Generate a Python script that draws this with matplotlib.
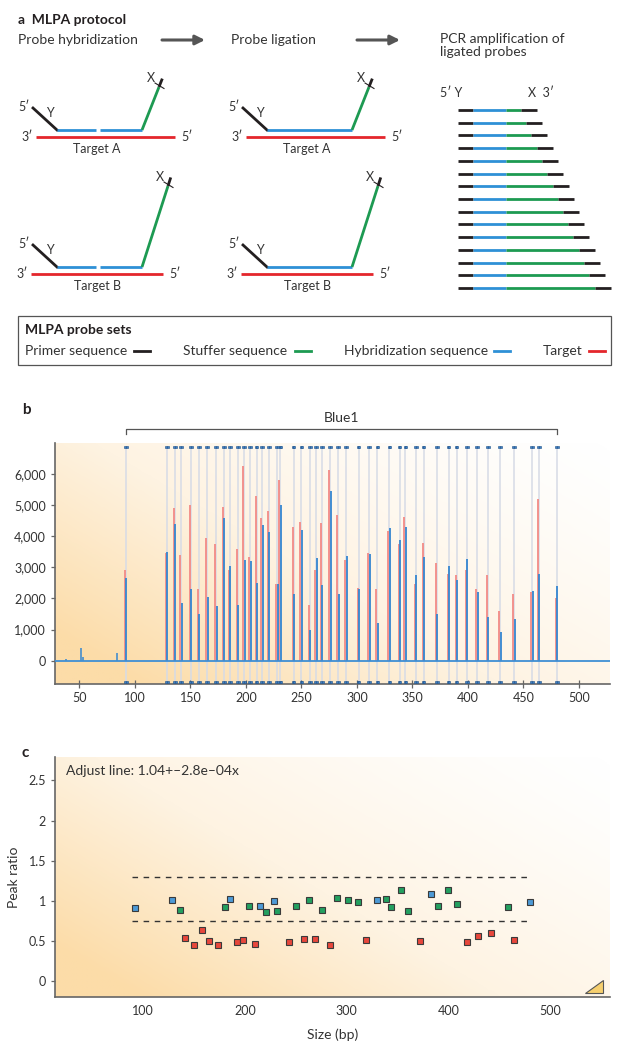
import numpy as np
import matplotlib
matplotlib.use("Agg")
import matplotlib.pyplot as plt
from matplotlib.colors import LinearSegmentedColormap
from matplotlib.patches import Rectangle, Polygon
from matplotlib.ticker import FuncFormatter

plt.rcParams['font.family'] = ['Lato', 'DejaVu Sans']

# ---- data -------------------------------------------------------------
# probe sizes (bp), same probes in panel b and c
sizes = [91.7, 128.8, 136, 141.5, 150.3, 157.6, 165, 173.3, 180.1, 185.4,
         192.6, 198.5, 204, 209.6, 214.8, 220.7, 228.2, 231.1, 242.9, 250,
         257.6, 263.1, 268.3, 276, 283.1, 290.4, 301.5, 311, 318.5, 329.3,
         338.4, 343.7, 352.9, 360, 371.8, 382.6, 389.8, 399, 408.4, 418,
         429, 441.8, 457.8, 463.7, 480]
# electropherogram peak heights, reference (red) and sample (blue)
red_h = [2900, 3450, 4900, 3400, 5000, 2300, 3950, 3750, 4950, 2900,
         3600, 6250, 3350, 5300, 4600, 4800, 2450, 5800, 4300, 4450,
         1800, 2900, 4420, 6120, 4670, 3230, 2350, 3450, 2290, 4185,
         3760, 4630, 2460, 3780, 3140, 2800, 2750, 2930, 2320, 2750,
         1600, 2130, 2215, 5200, 2000]
blue_h = [2650, 3500, 4400, 1850, 2300, 1500, 2050, 1750, 4600, 3050,
          1800, 3250, 3200, 2500, 4350, 4150, 2450, 5000, 2150, 4200,
          1000, 3300, 2430, 5460, 2130, 3360, 2320, 3420, 1200, 4270,
          3890, 4290, 2770, 3330, 1500, 3035, 2610, 3280, 2215, 1395,
          916, 1330, 2240, 2800, 2400]
# small unassigned peaks before the first probe
small_x = [37.5, 51.5, 53.5, 83.5]
small_h = [50, 400, 130, 240]

# panel c: peak ratios and class (b = reference, g = normal, r = deletion)
ratios = [0.91, 1.01, 0.89, 0.535, 0.45, 0.635, 0.505, 0.45, 0.925, 1.03,
          0.485, 0.515, 0.94, 0.465, 0.94, 0.86, 1.0, 0.87, 0.495, 0.94,
          0.527, 1.01, 0.53, 0.89, 0.45, 1.04, 1.01, 0.99, 0.52, 1.01,
          1.03, 0.925, 1.13, 0.88, 0.505, 1.08, 0.94, 1.13, 0.96, 0.49,
          0.565, 0.60, 0.92, 0.52, 0.99]
classes = ['b', 'b', 'g', 'r', 'r', 'r', 'r', 'r', 'g', 'b',
           'r', 'r', 'g', 'r', 'b', 'g', 'b', 'g', 'r', 'g',
           'r', 'g', 'r', 'g', 'r', 'g', 'g', 'g', 'r', 'b',
           'g', 'g', 'g', 'g', 'r', 'b', 'g', 'g', 'g', 'r',
           'r', 'r', 'g', 'r', 'b']
limits = [0.75, 1.3]

# panel a: right-hand end of stuffer (green) for each ligated PCR product
stuffer_end = [521, 526, 531, 537, 542, 547, 553, 558, 563, 568,
               573, 579, 584, 589, 595]

RED = '#e4262c'
BLUE = '#2e90d6'
GREEN = '#1d9a52'
BLACK = '#231f20'
TXT = '#333333'

fig = plt.figure(figsize=(6.2, 10.5), dpi=100)

# ---- panel a: diagram, drawn in pixel units -------------------------------
axa = fig.add_axes([0, 1 - 372 / 1050, 1, 372 / 1050])
axa.set_xlim(0, 620)
axa.set_ylim(372, 0)
axa.axis('off')

fs = 10
axa.text(18, 20, 'a  MLPA protocol', fontsize=fs, fontweight='bold', va='center', color=BLACK)
axa.text(18, 40, 'Probe hybridization', fontsize=fs, va='center', color=TXT)
axa.text(231, 40, 'Probe ligation', fontsize=fs, va='center', color=TXT)
axa.text(440, 33, 'PCR amplification of\nligated probes', fontsize=fs, va='top',
         color=TXT, linespacing=1.15)
for x0, x1 in [(162, 205), (357, 400)]:
    axa.annotate('', xy=(x1, 40), xytext=(x0, 40),
                 arrowprops=dict(arrowstyle='-|>', color='#555555', lw=2.2,
                                 mutation_scale=14, shrinkA=0, shrinkB=0))


def draw_probe(dx, yb, red_start, red_end, tip, ligated, label):
    lw = 2
    axa.plot([red_start + dx, red_end + dx], [yb + 7, yb + 7], color=RED, lw=lw, solid_capstyle='butt')
    axa.plot([33 + dx, 57 + dx], [yb - 22, yb], color=BLACK, lw=lw)
    if ligated:
        axa.plot([57 + dx, 142 + dx], [yb, yb], color=BLUE, lw=lw, solid_capstyle='butt')
    else:
        axa.plot([57 + dx, 96 + dx], [yb, yb], color=BLUE, lw=lw, solid_capstyle='butt')
        axa.plot([100 + dx, 142 + dx], [yb, yb], color=BLUE, lw=lw, solid_capstyle='butt')
    tx, ty = tip[0] + dx, tip[1]
    axa.plot([142 + dx, tx], [yb, ty], color=GREEN, lw=lw, solid_capstyle='butt')
    vx, vy = tx - (142 + dx), ty - yb
    n = np.hypot(vx, vy)
    ux, uy = vx / n, vy / n
    axa.plot([tx, tx + 9 * ux], [ty, ty + 9 * uy], color=BLACK, lw=lw, solid_capstyle='butt')
    axa.plot([tx - 4, tx + 5], [ty - 4, ty + 1.5], color=BLACK, lw=0.8)
    axa.text(tx - 8, ty - 9, 'X', fontsize=9, ha='center', va='center', color=TXT)
    axa.text(24 + dx, yb - 23, '5\u2032', fontsize=9, ha='center', va='center', color=TXT)
    axa.text(50 + dx, yb - 17, 'Y', fontsize=9, ha='center', va='center', color=TXT)
    axa.text(red_start - 9 + dx, yb + 7, '3\u2032', fontsize=9, ha='center', va='center', color=TXT)
    axa.text(red_end + 12 + dx, yb + 7, '5\u2032', fontsize=9, ha='center', va='center', color=TXT)
    axa.text(97 + dx, yb + 19, label, fontsize=9, ha='center', va='center', color=TXT)


for dx, lig in [(0, False), (210, True)]:
    draw_probe(dx, 130, 36, 175, (159, 87), lig, 'Target A')
    draw_probe(dx, 267, 31, 163, (168, 186), lig, 'Target B')

# ligated products
axa.text(440, 93, '5\u2032 Y', fontsize=9, va='center', color=TXT)
axa.text(528, 93, 'X  3\u2032', fontsize=9, va='center', color=TXT)
ys = np.linspace(110, 288, len(stuffer_end))
for y, ge in zip(ys, stuffer_end):
    axa.plot([458, 473], [y, y], color=BLACK, lw=2, solid_capstyle='butt')
    axa.plot([473, 506], [y, y], color=BLUE, lw=2, solid_capstyle='butt')
    axa.plot([506, ge], [y, y], color=GREEN, lw=2, solid_capstyle='butt')
    axa.plot([ge, ge + 16], [y, y], color=BLACK, lw=2, solid_capstyle='butt')

# legend box
axa.add_patch(Rectangle((18, 316), 593, 49, fill=False, ec='#555555', lw=0.9))
axa.text(25, 330, 'MLPA probe sets', fontsize=fs, fontweight='bold', va='center', color=BLACK)
leg = [('Primer sequence', 25, 134, BLACK), ('Stuffer sequence', 183, 295, GREEN),
       ('Hybridization sequence', 344, 494, BLUE), ('Target', 543, 589, RED)]
for name, tx, lx, c in leg:
    axa.text(tx, 351, name, fontsize=fs, va='center', color=TXT)
    axa.plot([lx, lx + 16], [351, 351], color=c, lw=2)

# ---- background gradient ---------------------------------------------------
gx, gy = np.meshgrid(np.linspace(0, 1, 300), np.linspace(0, 1, 200))
grad = np.clip(((1 - gx) * 0.75 + (1 - gy) * 0.55) ** 1.3 / 1.25, 0, 1)
peach = LinearSegmentedColormap.from_list('peach', ['#ffffff', '#fef3e2', '#fcdca8'])


def style_axes(ax):
    ax.imshow(grad, extent=[0, 1, 0, 1], transform=ax.transAxes, origin='lower',
              aspect='auto', cmap=peach, vmin=0, vmax=1, zorder=0)
    for s in ['top', 'right']:
        ax.spines[s].set_visible(False)
    for s in ['left', 'bottom']:
        ax.spines[s].set_color('#666666')
        ax.spines[s].set_linewidth(1.2)
    ax.tick_params(colors='#666666', labelcolor=TXT, labelsize=9, width=0.9)


# ---- panel b: electropherogram --------------------------------------------
axb = fig.add_axes([55 / 620, 1 - 684 / 1050, 555 / 620, 241 / 1050])
style_axes(axb)
axb.set_xlim(28, 528)
axb.set_ylim(-750, 7000)
sz = np.array(sizes)
axb.vlines(sz, -700, 6880, color='#d6dbe6', lw=1.1, zorder=1)
axb.vlines(sz - 0.9, 0, red_h, color='#f28a86', lw=1.3, zorder=2)
axb.vlines(sz + 0.5, 0, blue_h, color='#3586d0', lw=1.3, zorder=3)
axb.vlines(small_x, 0, small_h, color='#3586d0', lw=1.1, zorder=3)
axb.plot([28, 528], [0, 0], color='#3f8fd4', lw=1.3, zorder=4)
for off in (-0.8, 0.8):
    axb.plot(sz + off, np.full(len(sz), 6880), 's', ms=1.6, mfc='#3a80c8',
             mec='#1f4f85', mew=0.4, zorder=5, clip_on=False)
    axb.plot(sz + off, np.full(len(sz), -700), 's', ms=1.6, mfc='#3a80c8',
             mec='#1f4f85', mew=0.4, zorder=5, clip_on=False)
axb.set_yticks(range(0, 7000, 1000))
axb.yaxis.set_major_formatter(FuncFormatter(lambda v, p: f'{int(v):,}'))
axb.set_xticks(range(50, 501, 50))
axb.tick_params(axis='y', direction='out', length=3)
axb.tick_params(axis='x', direction='inout', length=6, pad=3)
tr = axb.get_xaxis_transform()
axb.plot([sizes[0], sizes[0], sizes[-1], sizes[-1]], [1.038, 1.058, 1.058, 1.038],
         color='#555555', lw=0.9, transform=tr, clip_on=False)
axb.text((sizes[0] + sizes[-1]) / 2, 1.105, 'Blue1', transform=tr, ha='center',
         va='center', fontsize=fs, color=TXT)
fig.text(22 / 620, 1 - 410 / 1050, 'b', fontsize=11, fontweight='bold', va='center', color=BLACK)

# ---- panel c: peak ratios ----------------------------------------------------
axc = fig.add_axes([55 / 620, 1 - 997 / 1050, 555 / 620, 240 / 1050])
style_axes(axc)
axc.set_xlim(13.7, 558.2)
axc.set_ylim(-0.195, 2.79)
axc.hlines(limits, sizes[0] - 2, sizes[-1], color='#333333', lw=1,
           linestyles=(0, (4, 4)), zorder=2)
col = {'b': '#4d9ad6', 'g': '#23a060', 'r': '#e8473c'}
for k in ['b', 'g', 'r']:
    xs = [s for s, c in zip(sizes, classes) if c == k]
    rs = [r for r, c in zip(ratios, classes) if c == k]
    axc.plot(xs, rs, 's', ms=5, mfc=col[k], mec='#3a3a3a', mew=0.8, zorder=3)
axc.set_yticks([0, 0.5, 1, 1.5, 2, 2.5])
axc.yaxis.set_major_formatter(FuncFormatter(lambda v, p: f'{v:g}'))
axc.set_xticks([100, 200, 300, 400, 500])
axc.tick_params(axis='y', direction='out', length=3)
axc.tick_params(axis='x', direction='out', length=0, pad=6)
axc.set_xlabel('Size (bp)', fontsize=fs, color=TXT, labelpad=8)
axc.set_ylabel('Peak ratio', fontsize=fs, color=TXT, labelpad=6)
axc.text(0.02, 0.942, 'Adjust line: 1.04+\u20132.8e\u201304x', transform=axc.transAxes,
         fontsize=fs, va='center', color=TXT)
axc.add_patch(Polygon([(0.955, 0.017), (0.987, 0.017), (0.987, 0.072)], closed=True,
                      transform=axc.transAxes, fc='#f6cf6e', ec='#555555', lw=0.8, zorder=4))
fig.text(22 / 620, 1 - 753 / 1050, 'c', fontsize=11, fontweight='bold', va='center', color=BLACK)

fig.savefig('out.png', dpi=100)
